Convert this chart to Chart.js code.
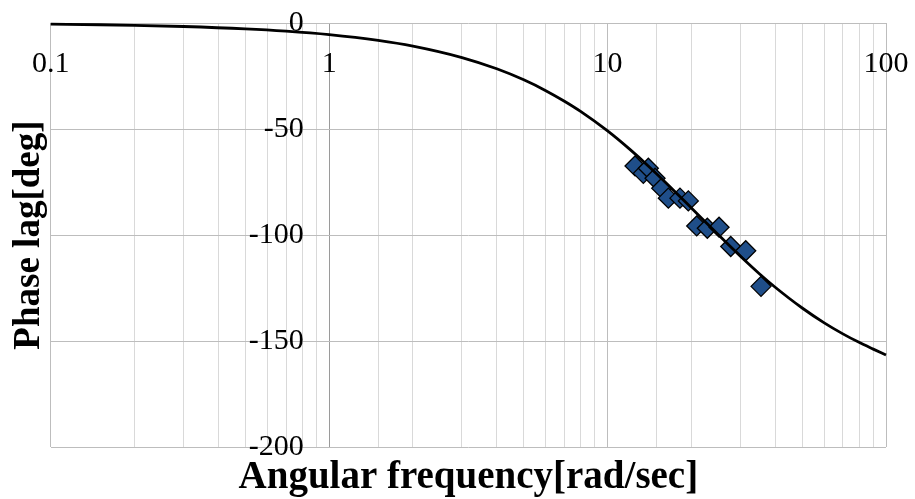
<!DOCTYPE html>
<html>
<head>
<meta charset="utf-8">
<script src="https://cdn.jsdelivr.net/npm/chart.js@4.4.1/dist/chart.umd.min.js"></script>
<style>
  html, body { margin: 0; padding: 0; background: #fff; }
  #wrap { width: 915px; height: 499px; }
</style>
</head>
<body>
<div id="wrap"><canvas id="bode" width="915" height="499"></canvas></div>
<script>
/* ---------------------------------
   DATA
--------------------------------- */
// fitted curve
const curveFreq = [0.1, 0.15, 0.2, 0.3, 0.5, 0.7, 1, 1.5, 2, 3, 4, 5, 6, 7, 8, 10, 12, 14, 17, 20, 25, 30, 35, 40, 50, 60, 70, 80, 90, 100];
const curvePhase = [-0.55, -0.82, -1.09, -1.64, -2.73, -3.82, -5.45, -8.17, -10.9, -16.3, -21.6, -26.8, -31.9, -36.9, -41.7, -50.9, -59.5, -67.4, -78.0, -87.2, -99.9, -110.0, -118.1, -124.6, -134.4, -141.4, -146.6, -150.6, -153.8, -156.6];

// measured points (diamonds)
const measFreq = [12.55, 13.44, 14.01, 14.81, 15.65, 16.53, 18.2, 19.5, 20.9, 22.82, 25.14, 27.69, 31.35, 35.57];
const measPhase = [-67.4, -70.9, -68.5, -73.2, -77.9, -82.6, -82.6, -83.9, -95.7, -96.8, -96.3, -105.4, -107.4, -124.2];

const xTicks = [0.1, 1, 10, 100];
const yTicks = [0, -50, -100, -150, -200];

/* ---------------------------------
   HELPERS
--------------------------------- */
const FONT = "'Liberation Serif', 'Times New Roman', serif";

function isDecade(v) {
  return xTicks.some((t) => Math.abs(v - t) < t * 1e-6);
}

function toPoints(xs, ys) {
  return xs.map((x, i) => ({ x, y: ys[i] }));
}

function gridColor(c) {
  const v = c.tick.value;
  if (Math.abs(v - 1) < 1e-6) return "#9a9a9a"; // vertical axis crosses at 1
  return isDecade(v) ? "#bdbdbd" : "#d9d9d9";
}

// the label axes sit inside the plot, keep them out of the layout
function noSidePadding(s) {
  s.paddingLeft = 0;
  s.paddingRight = 0;
}

/* ---------------------------------
   CHART
--------------------------------- */
const ctx = document.getElementById("bode").getContext("2d");
new Chart(ctx, {
  type: "line",
  data: {
    datasets: [
      {
        label: "fit",
        data: toPoints(curveFreq, curvePhase),
        borderColor: "#000",
        borderWidth: 2.8,
        pointRadius: 0,
        tension: 0.4,
        cubicInterpolationMode: "monotone",
        fill: false,
        clip: 4
      },
      {
        label: "measured",
        data: toPoints(measFreq, measPhase),
        showLine: false,
        pointStyle: "rectRot",
        pointRadius: 10,
        pointBackgroundColor: "#1F4E89",
        pointBorderColor: "#000",
        pointBorderWidth: 1.3,
        clip: false
      }
    ]
  },
  options: {
    responsive: false,
    animation: false,
    devicePixelRatio: 1,
    layout: { autoPadding: false, padding: { top: 23, right: 29, left: 0, bottom: 0 } },
    plugins: {
      legend: { display: false },
      tooltip: { enabled: false }
    },
    scales: {
      x: {
        type: "logarithmic",
        position: "bottom",
        min: 0.1,
        max: 100,
        border: { display: false },
        grid: { drawTicks: false, color: gridColor },
        ticks: { display: false, autoSkip: false },
        title: {
          display: true,
          text: "Angular frequency[rad/sec]",
          color: "#000",
          font: { family: FONT, size: 39, weight: "bold", lineHeight: 1.1 },
          padding: { top: 9, bottom: 0 }
        }
      },
      y: {
        type: "linear",
        position: "left",
        min: -200,
        max: 0,
        border: { display: false },
        grid: { drawTicks: false, color: "#bdbdbd" },
        ticks: { display: false, stepSize: 50 },
        title: {
          display: true,
          text: "Phase lag[deg]",
          color: "#000",
          font: { family: FONT, size: 37, weight: "bold", lineHeight: 1.1 },
          padding: { top: 9, bottom: 1 }
        }
      },
      xl: {
        type: "logarithmic",
        position: { y: 0 },
        min: 0.1,
        max: 100,
        border: { display: false },
        grid: { display: false },
        afterFit: noSidePadding,
        ticks: {
          autoSkip: false,
          maxRotation: 0,
          padding: 15,
          color: "#000",
          font: { family: FONT, size: 30 },
          callback: (v) => (isDecade(v) ? String(v) : "")
        }
      },
      yl: {
        type: "linear",
        position: { x: 0.81 },
        min: -200,
        max: 0,
        border: { display: false },
        grid: { display: false },
        afterFit: noSidePadding,
        afterBuildTicks: (s) => { s.ticks = yTicks.map((v) => ({ value: v })); },
        ticks: {
          padding: 4,
          color: "#000",
          font: { family: FONT, size: 30 }
        }
      }
    }
  }
});
</script>
</body>
</html>
